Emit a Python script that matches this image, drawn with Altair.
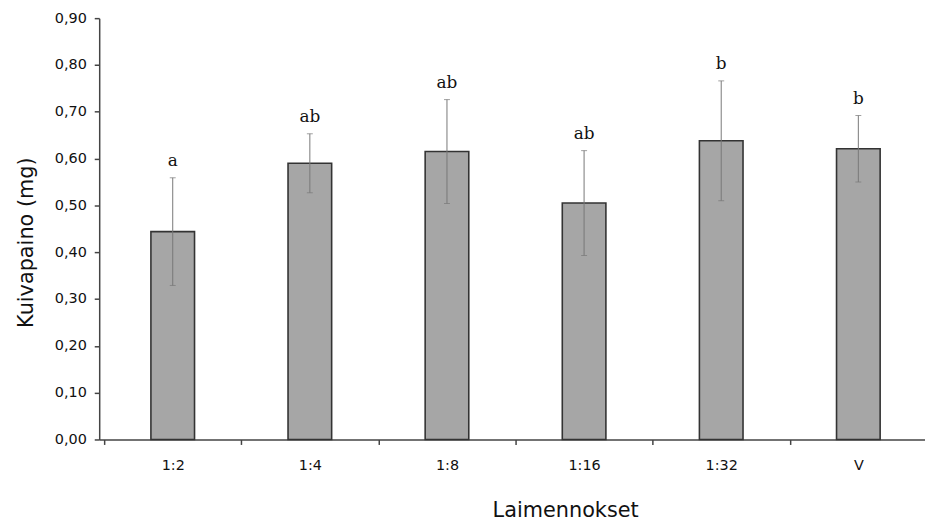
import altair as alt
import pandas as pd

categories = ["1:2", "1:4", "1:8", "1:16", "1:32", "V"]
means = [0.444, 0.590, 0.615, 0.505, 0.638, 0.621]
errors = [0.115, 0.063, 0.111, 0.112, 0.128, 0.071]
letters = ["a", "ab", "ab", "ab", "b", "b"]
y_ticks = [0.0, 0.1, 0.2, 0.3, 0.4, 0.5, 0.6, 0.7, 0.8, 0.9]

df = pd.DataFrame({
    "cat": categories,
    "pos": [i + 0.5 for i in range(len(categories))],
    "mean": means,
    "lo": [m - e for m, e in zip(means, errors)],
    "hi": [m + e for m, e in zip(means, errors)],
    "letter": letters,
})

W, H = 833, 425
band_px = 140
x_max = W / band_px

cat_list = "[" + ",".join("'" + c + "'" for c in categories) + "]"
x_vals = [i * 0.5 for i in range(12)]

x_axis = alt.Axis(
    values=x_vals,
    labelExpr=f"(datum.value % 1) != 0 ? {cat_list}[floor(datum.value)] : ''",
    tickOpacity={"condition": {"test": "(datum.value % 1) != 0", "value": 0}, "value": 1},
    labelFont="DejaVu Sans", labelFontSize=14.5, labelColor="#111",
    labelPadding=14, tickSize=5, tickColor="#444", domainColor="#444",
    domainWidth=1.5, tickWidth=1.5, labelFlush=False, labelOverlap=False,
    grid=False,
    title="Laimennokset", titleFont="DejaVu Sans", titleFontSize=21,
    titleFontWeight="normal", titleColor="#111", titleX=470, titleY=78,
    titleAnchor="middle", titleBaseline="alphabetic",
)
y_axis = alt.Axis(
    values=y_ticks,
    labelExpr="replace(format(datum.value, '.2f'), '.', ',')",
    labelFont="DejaVu Sans", labelFontSize=14.5, labelColor="#111",
    labelPadding=8, tickSize=5, tickColor="#444", domainColor="#444",
    domainWidth=1.5, tickWidth=1.5, grid=False,
    title="Kuivapaino (mg)", titleFont="DejaVu Sans", titleFontSize=21,
    titleFontWeight="normal", titleColor="#111", titleX=-67, titleY=226,
    titleAngle=-90, titleAnchor="middle", titleBaseline="alphabetic",
)

x_scale = alt.Scale(domain=[0, x_max], nice=False, zero=False)
y_scale = alt.Scale(domain=[0, 0.9], nice=False)

base = alt.Chart(df)

bars = base.mark_bar(
    size=44, color="#a6a6a6", stroke="#333333", strokeWidth=1.6
).encode(
    x=alt.X("pos:Q", scale=x_scale, axis=x_axis),
    y=alt.Y("mean:Q", scale=y_scale, axis=y_axis),
)

rules = base.mark_rule(color="#777777", strokeWidth=1).encode(
    x=alt.X("pos:Q", axis=x_axis), y=alt.Y("lo:Q", axis=y_axis), y2="hi:Q"
)
caps_hi = base.mark_tick(color="#777777", thickness=1, size=6, orient="horizontal").encode(
    x=alt.X("pos:Q", axis=x_axis), y=alt.Y("hi:Q", axis=y_axis)
)
caps_lo = base.mark_tick(color="#777777", thickness=1, size=6, orient="horizontal").encode(
    x=alt.X("pos:Q", axis=x_axis), y=alt.Y("lo:Q", axis=y_axis)
)
labels = base.mark_text(
    font="DejaVu Serif", fontSize=17, color="#111", dy=-12, baseline="alphabetic"
).encode(
    x=alt.X("pos:Q", axis=x_axis), y=alt.Y("hi:Q", axis=y_axis), text="letter:N"
)

chart = alt.layer(bars, rules, caps_hi, caps_lo, labels).properties(
    width=W, height=H,
    autosize=alt.AutoSizeParams(type="none"),
    padding={"left": 92, "top": 8, "right": 0, "bottom": 80},
).configure(
    background="white",
    view={"stroke": "white", "strokeWidth": 0, "strokeOpacity": 0, "fill": "white"},
    axis={"grid": False, "gridOpacity": 0},
)

chart.save("out.html", embed_options={"renderer": "svg", "actions": False})
